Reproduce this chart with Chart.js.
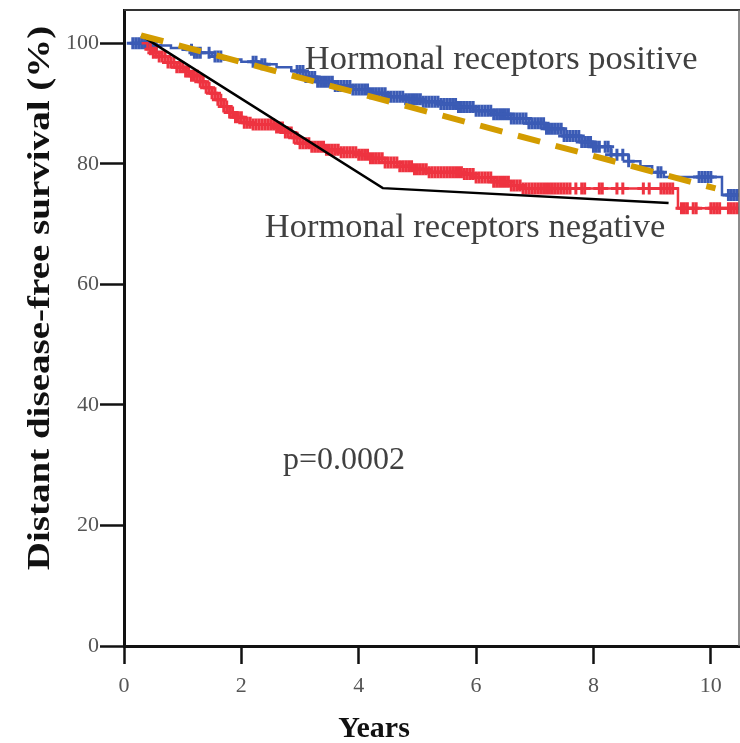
<!DOCTYPE html>
<html><head><meta charset="utf-8">
<script src="https://cdn.jsdelivr.net/npm/chart.js@4.4.1/dist/chart.umd.min.js"></script>
<style>html,body{margin:0;padding:0;background:#fff}canvas{display:block}</style>
</head><body>
<canvas id="c" width="740" height="743"></canvas>
<script>
// ---- axis ticks ----
const xTicks = [0, 2, 4, 6, 8, 10];
const yTicks = [0, 20, 40, 60, 80, 100];
const xTitle = 'Years';
const yTitle = 'Distant disease-free survival (%)';

// ---- Kaplan-Meier steps: hormonal receptors positive (blue) ----
const posTime = [0.14, 0.5, 0.8, 1.0, 1.2, 1.5, 1.7, 2.0, 2.3, 2.6, 2.85, 3.1, 3.3, 3.6, 3.9, 4.2, 4.5, 4.8, 5.1, 5.4, 5.7, 6.0, 6.3, 6.6, 6.9, 7.2, 7.5, 7.8, 8.0, 8.3, 8.6, 8.8, 9.0, 9.2, 10.19, 10.48];
const posSurv = [100, 99.6, 99.2, 98.9, 98.4, 97.8, 97.3, 96.9, 96.5, 96.0, 95.4, 94.4, 93.6, 92.9, 92.3, 91.7, 91.1, 90.7, 90.3, 89.9, 89.4, 88.8, 88.2, 87.5, 86.7, 85.8, 84.6, 83.6, 82.8, 81.5, 80.4, 79.6, 78.6, 77.8, 74.8, 74.8];
// censored observations (+ marks): [years, survival %]
const posCensored = [
  [0.15,100],[0.2,100],[0.25,100],[0.3,100],[0.35,100],[0.4,100],[0.45,100],[0.5,99.6],[0.55,99.6],
  [1.15,98.9],[1.2,98.4],[1.25,98.4],[1.3,98.4],[1.45,98.4],[1.55,97.8],[1.6,97.8],[1.65,97.8],
  [2.2,96.9],[2.25,96.9],[2.35,96.5],[2.4,96.5],[2.95,95.4],[3.0,95.4],[3.05,95.4],
  [3.1,94.4],[3.15,94.4],[3.2,94.4],[3.25,94.4],
  [3.3,93.6],[3.35,93.6],[3.4,93.6],[3.45,93.6],[3.5,93.6],[3.55,93.6],
  [3.6,92.9],[3.65,92.9],[3.7,92.9],[3.75,92.9],[3.8,92.9],[3.85,92.9],
  [3.9,92.3],[3.95,92.3],[4.0,92.3],[4.05,92.3],[4.1,92.3],[4.15,92.3],
  [4.2,91.7],[4.25,91.7],[4.3,91.7],[4.35,91.7],[4.4,91.7],[4.45,91.7],
  [4.5,91.1],[4.55,91.1],[4.6,91.1],[4.65,91.1],[4.7,91.1],[4.75,91.1],
  [4.8,90.7],[4.85,90.7],[4.9,90.7],[4.95,90.7],[5.0,90.7],[5.05,90.7],
  [5.1,90.3],[5.15,90.3],[5.2,90.3],[5.25,90.3],[5.3,90.3],[5.35,90.3],
  [5.4,89.9],[5.45,89.9],[5.5,89.9],[5.55,89.9],[5.6,89.9],[5.65,89.9],
  [5.7,89.4],[5.75,89.4],[5.8,89.4],[5.85,89.4],[5.9,89.4],[5.95,89.4],
  [6.0,88.8],[6.05,88.8],[6.1,88.8],[6.15,88.8],[6.2,88.8],[6.25,88.8],
  [6.3,88.2],[6.35,88.2],[6.4,88.2],[6.45,88.2],[6.5,88.2],[6.55,88.2],
  [6.6,87.5],[6.65,87.5],[6.7,87.5],[6.75,87.5],[6.8,87.5],[6.85,87.5],
  [6.9,86.7],[6.95,86.7],[7.0,86.7],[7.05,86.7],[7.1,86.7],[7.15,86.7],
  [7.2,85.8],[7.25,85.8],[7.3,85.8],[7.35,85.8],[7.4,85.8],[7.45,85.8],
  [7.5,84.6],[7.55,84.6],[7.6,84.6],[7.65,84.6],[7.7,84.6],[7.75,84.6],
  [7.8,83.6],[7.85,83.6],[7.9,83.6],[7.95,83.6],[8.0,82.8],[8.05,82.8],[8.1,82.8],[8.2,82.8],[8.25,82.8],
  [8.3,81.5],[8.4,81.5],[8.5,81.5],[8.6,80.4],[9.1,78.6],[9.15,78.6],
  [9.8,77.8],[9.85,77.8],[9.9,77.8],[9.95,77.8],[10.0,77.8],[10.3,74.8],[10.35,74.8],[10.4,74.8],[10.45,74.8]
];

// ---- Kaplan-Meier steps: hormonal receptors negative (red) ----
const negTime = [0.3, 0.4, 0.5, 0.6, 0.75, 0.9, 1.05, 1.15, 1.3, 1.4, 1.5, 1.6, 1.7, 1.8, 1.9, 2.05, 2.2, 2.6, 2.75, 2.9, 3.0, 3.2, 3.45, 3.7, 4.0, 4.2, 4.45, 4.7, 4.95, 5.2, 5.8, 6.0, 6.3, 6.6, 6.8, 9.44, 10.48];
const negSurv = [100, 99.0, 98.4, 97.8, 96.8, 96.0, 95.3, 94.6, 93.6, 92.6, 91.7, 90.6, 89.5, 88.5, 87.7, 86.8, 86.5, 86.0, 85.2, 84.3, 83.4, 82.8, 82.3, 81.9, 81.5, 80.9, 80.2, 79.6, 79.1, 78.6, 78.3, 77.7, 77.0, 76.4, 75.9, 72.6, 72.6];
const negCensored = [
  [0.45,99.0],[0.5,98.4],[0.55,98.4],[0.6,97.8],[0.65,97.8],[0.7,97.8],[0.75,96.8],[0.8,96.8],[0.85,96.8],
  [0.9,96.0],[0.95,96.0],[1.0,96.0],[1.05,95.3],[1.1,95.3],[1.15,94.6],[1.2,94.6],[1.25,94.6],
  [1.3,93.6],[1.35,93.6],[1.4,92.6],[1.45,92.6],[1.5,91.7],[1.55,91.7],[1.6,90.6],[1.65,90.6],
  [1.7,89.5],[1.75,89.5],[1.8,88.5],[1.85,88.5],[1.9,87.7],[1.95,87.7],[2.0,87.7],[2.05,86.8],[2.1,86.8],
  [2.15,86.8],[2.2,86.5],[2.25,86.5],[2.3,86.5],[2.35,86.5],[2.4,86.5],[2.45,86.5],[2.5,86.5],[2.55,86.5],
  [2.6,86.0],[2.65,86.0],[2.7,86.0],[2.75,85.2],[2.8,85.2],[2.85,85.2],[2.9,84.3],[2.95,84.3],
  [3.0,83.4],[3.05,83.4],[3.1,83.4],[3.15,83.4],[3.2,82.8],[3.25,82.8],[3.3,82.8],[3.35,82.8],[3.4,82.8],
  [3.45,82.3],[3.5,82.3],[3.55,82.3],[3.6,82.3],[3.65,82.3],[3.7,81.9],[3.75,81.9],[3.8,81.9],[3.85,81.9],
  [3.9,81.9],[3.95,81.9],[4.0,81.5],[4.05,81.5],[4.1,81.5],[4.15,81.5],[4.2,80.9],[4.25,80.9],[4.3,80.9],
  [4.35,80.9],[4.4,80.9],[4.45,80.2],[4.5,80.2],[4.55,80.2],[4.6,80.2],[4.65,80.2],[4.7,79.6],[4.75,79.6],
  [4.8,79.6],[4.85,79.6],[4.9,79.6],[4.95,79.1],[5.0,79.1],[5.05,79.1],[5.1,79.1],[5.15,79.1],[5.2,78.6],
  [5.25,78.6],[5.3,78.6],[5.35,78.6],[5.4,78.6],[5.45,78.6],[5.5,78.6],[5.55,78.6],[5.6,78.6],[5.65,78.6],
  [5.7,78.6],[5.75,78.6],[5.8,78.3],[5.85,78.3],[5.9,78.3],[5.95,78.3],[6.0,77.7],[6.05,77.7],[6.1,77.7],
  [6.15,77.7],[6.2,77.7],[6.25,77.7],[6.3,77.0],[6.35,77.0],[6.4,77.0],[6.45,77.0],[6.5,77.0],[6.55,77.0],
  [6.6,76.4],[6.65,76.4],[6.7,76.4],[6.75,76.4],[6.8,75.9],[6.85,75.9],[6.9,75.9],[6.95,75.9],[7.0,75.9],
  [7.05,75.9],[7.1,75.9],[7.15,75.9],[7.2,75.9],[7.25,75.9],[7.3,75.9],[7.35,75.9],[7.4,75.9],[7.45,75.9],
  [7.5,75.9],[7.55,75.9],[7.6,75.9],[7.7,75.9],[7.8,75.9],[7.85,75.9],[8.1,75.9],[8.15,75.9],[8.4,75.9],
  [8.5,75.9],[8.85,75.9],[8.95,75.9],[9.15,75.9],[9.2,75.9],[9.25,75.9],[9.3,75.9],[9.35,75.9],
  [9.5,72.6],[9.55,72.6],[9.6,72.6],[9.7,72.6],[9.75,72.6],[10.0,72.6],[10.05,72.6],[10.1,72.6],[10.15,72.6],
  [10.3,72.6],[10.35,72.6],[10.4,72.6],[10.45,72.6]
];

// ---- annotation pointer lines ----
const blackLineX = [0.29, 4.41, 9.28];
const blackLineY = [101.3, 75.95, 73.5];
const goldLineX = [0.29, 10.08];
const goldLineY = [101.3, 75.9];

// ---- annotation texts ----
const noteText = ['Hormonal receptors positive', 'Hormonal receptors negative', 'p=0.0002'];
const noteX = [3.08, 2.40, 2.71];
const noteY = [95.7, 67.8, 29.35];

const pts = (xs, ys) => xs.map((v, i) => ({x: v, y: ys[i]}));
const pairs = arr => arr.map(p => ({x: p[0], y: p[1]}));

const BLUE = '#3b5bb5';
const RED = '#ee3340';
const GOLD = '#d39c00';

const decor = {
  id: 'decor',
  afterDatasetsDraw(chart) {
    const {ctx, scales: {x, y}} = chart;
    ctx.save();
    ctx.fillStyle = '#404040';
    ctx.textAlign = 'left';
    ctx.textBaseline = 'alphabetic';
    const sizes = [34.5, 34.5, 32];
    noteText.forEach((t, i) => {
      ctx.font = sizes[i] + 'px "Liberation Serif"';
      ctx.fillText(t, x.getPixelForValue(noteX[i]), y.getPixelForValue(noteY[i]));
    });
    ctx.restore();
  },
  afterDraw(chart) {
    const {ctx, chartArea: a} = chart;
    ctx.save();
    ctx.strokeStyle = '#333';
    ctx.lineWidth = 2;
    ctx.beginPath(); ctx.moveTo(a.left, a.top); ctx.lineTo(a.right + 1, a.top); ctx.stroke();
    ctx.strokeStyle = '#666';
    ctx.lineWidth = 1.5;
    ctx.beginPath(); ctx.moveTo(a.right, a.top); ctx.lineTo(a.right, a.bottom); ctx.stroke();
    ctx.fillStyle = '#111';
    ctx.font = 'bold 37px "Liberation Serif"';
    ctx.textAlign = 'center';
    ctx.textBaseline = 'alphabetic';
    ctx.save();
    ctx.translate(49, 298);
    ctx.rotate(-Math.PI / 2);
    ctx.scale(1.055, 0.84);
    ctx.fillText(yTitle, 0, 0);
    ctx.restore();
    ctx.font = 'bold 30px "Liberation Serif"';
    ctx.fillText(xTitle, 374, 737);
    ctx.restore();
  }
};

new Chart(document.getElementById('c'), {
  type: 'line',
  data: {
    datasets: [
      {data: pts(goldLineX, goldLineY), borderColor: GOLD, borderWidth: 6, borderDash: [23, 16], pointRadius: 0, order: 0},
      {data: pts(blackLineX, blackLineY), borderColor: '#000', borderWidth: 2.5, pointRadius: 0, order: 0},
      {data: pts(posTime, posSurv), borderColor: BLUE, borderWidth: 2.5, stepped: 'before', pointRadius: 0, order: 2},
      {data: pairs(posCensored), showLine: false, pointStyle: 'cross', pointRadius: 6, pointBorderWidth: 3, pointBorderColor: BLUE, borderColor: BLUE, order: 2},
      {data: pts(negTime, negSurv), borderColor: RED, borderWidth: 2.5, stepped: 'before', pointRadius: 0, order: 1},
      {data: pairs(negCensored), showLine: false, pointStyle: 'cross', pointRadius: 6, pointBorderWidth: 3, pointBorderColor: RED, borderColor: RED, order: 1}
    ]
  },
  options: {
    responsive: false,
    animation: false,
    devicePixelRatio: 1,
    layout: {autoPadding: false, padding: {top: 10, right: 1, left: 0, bottom: 0}},
    plugins: {legend: {display: false}, tooltip: {enabled: false}},
    scales: {
      x: {
        type: 'linear', min: 0, max: 10.48,
        afterBuildTicks: s => { s.ticks = xTicks.map(v => ({value: v})); },
        afterFit: s => { s.height = 97; s.paddingLeft = 0; s.paddingRight = 0; },
        grid: {display: true, drawOnChartArea: false, drawTicks: true, tickLength: 18, tickColor: '#111', tickWidth: 2.5},
        border: {display: true, color: '#111', width: 3},
        ticks: {color: '#555', font: {family: '"Liberation Serif"', size: 22}, padding: 9, maxRotation: 0}
      },
      y: {
        type: 'linear', min: 0, max: 105.5,
        afterBuildTicks: s => { s.ticks = yTicks.map(v => ({value: v})); },
        afterFit: s => { s.width = 124; s.paddingTop = 0; s.paddingBottom = 0; },
        grid: {display: true, drawOnChartArea: false, drawTicks: true, tickLength: 24, tickColor: '#111', tickWidth: 2.5},
        border: {display: true, color: '#111', width: 3},
        ticks: {color: '#555', font: {family: '"Liberation Serif"', size: 22}, padding: 1}
      }
    }
  },
  plugins: [decor]
});
</script>
</body></html>
